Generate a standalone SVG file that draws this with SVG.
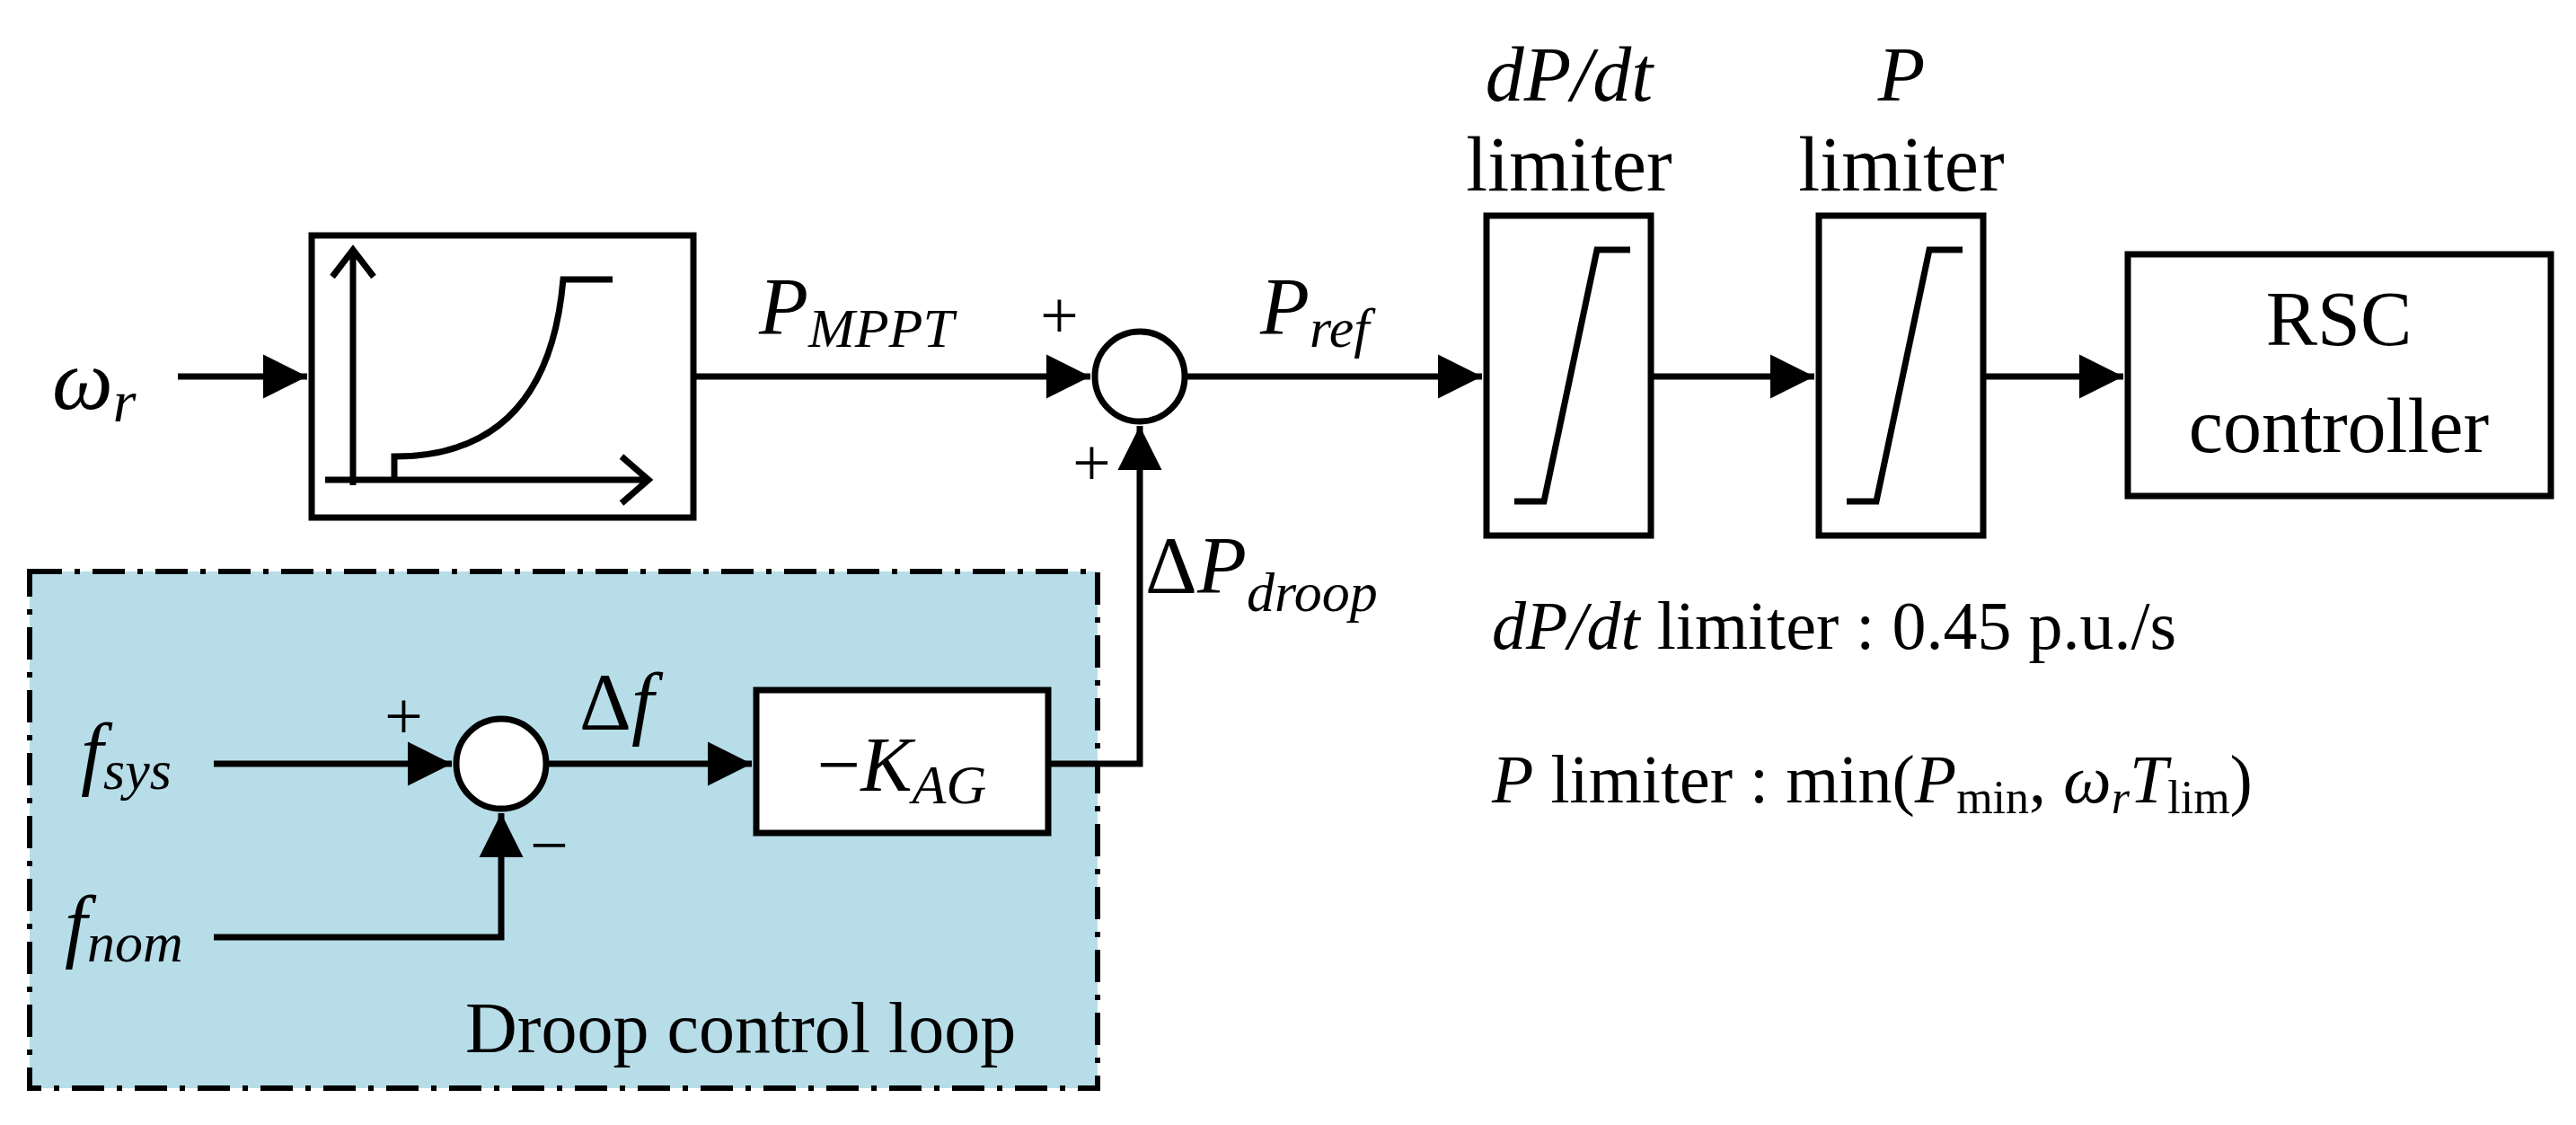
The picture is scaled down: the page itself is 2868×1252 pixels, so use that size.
<svg xmlns="http://www.w3.org/2000/svg" width="2868" height="1252" viewBox="0 0 2868 1252" font-family="'Liberation Serif', 'Times New Roman', 'DejaVu Serif', serif">
<defs>
<marker id="ah" markerWidth="8" markerHeight="8" refX="7" refY="4" orient="auto" markerUnits="strokeWidth"><path d="M0,0.5 L7,4 L0,7.5 Z" fill="#000"/></marker>
<style>
.b{fill:#fff;stroke:#000;stroke-width:7}
.l{fill:none;stroke:#000;stroke-width:7}
text{font-family:'Liberation Serif','Times New Roman','DejaVu Serif',serif;fill:#000}
.i{font-style:italic}
</style>
</defs>
<rect width="2868" height="1252" fill="#fff"/>
<g id="droop-loop">
<rect x="33" y="636" width="1189" height="575" fill="#b7dde8" stroke="#000" stroke-width="6" stroke-dasharray="36,14,6,14"/>
<text x="518" y="1171" font-size="80">Droop control loop</text>
</g>
<g id="mppt">
<rect class="b" x="347" y="262" width="425" height="314"/>
<path class="l" d="M393,540 V278 M370,308 L393,278 L416,308" stroke-width="5"/>
<path class="l" d="M362,534 H722 M692,508 L722,534 L692,560" stroke-width="5"/>
<path class="l" d="M439,534 V508 Q610,508 627,311 H682"/>
</g>
<g id="sum1"><circle class="b" cx="1269" cy="419" r="50"/></g>
<g id="sum2"><circle class="b" cx="558" cy="850" r="50"/></g>
<g id="kag"><rect class="b" x="842" y="768" width="325" height="159"/>
<text x="1004" y="880" font-size="86" text-anchor="middle"><tspan>−</tspan><tspan class="i">K</tspan><tspan class="i" font-size="62" dy="14">AG</tspan></text></g>
<g id="dpdt"><rect class="b" x="1655" y="240" width="183" height="356"/>
<path class="l" d="M1686,558 H1719 L1778,278 H1815"/></g>
<g id="plim"><rect class="b" x="2025" y="240" width="183" height="356"/>
<path class="l" d="M2056,558 H2089 L2148,278 H2185"/></g>
<g id="rsc"><rect class="b" x="2369" y="283" width="471" height="269"/>
<text x="2604" y="384" font-size="86" text-anchor="middle">RSC</text>
<text x="2604" y="503" font-size="86" text-anchor="middle">controller</text></g>
<g id="connectors">
<path class="l" d="M198,419 H342" marker-end="url(#ah)"/>
<path class="l" d="M772,419 H1214" marker-end="url(#ah)"/>
<path class="l" d="M1319,419 H1650" marker-end="url(#ah)"/>
<path class="l" d="M1838,419 H2020" marker-end="url(#ah)"/>
<path class="l" d="M2208,419 H2364" marker-end="url(#ah)"/>
<path class="l" d="M238,850 H503" marker-end="url(#ah)"/>
<path class="l" d="M238,1043 H558 V905" marker-end="url(#ah)"/>
<path class="l" d="M608,850 H837" marker-end="url(#ah)"/>
<path class="l" d="M1167,850 H1269 V474" marker-end="url(#ah)"/>
</g>
<g id="labels">
<text class="i" x="58" y="455" font-size="96">ω<tspan font-size="66" dy="14">r</tspan></text>
<text class="i" x="845" y="372" font-size="90">P<tspan font-size="62" dy="14">MPPT</tspan></text>
<text x="1158" y="376" font-size="76">+</text>
<text x="1194" y="540" font-size="76">+</text>
<text class="i" x="1403" y="372" font-size="90">P<tspan font-size="62" dy="14">ref</tspan></text>
<text x="1275" y="660" font-size="90">Δ<tspan class="i">P</tspan><tspan class="i" font-size="62" dy="20">droop</tspan></text>
<text class="i" x="90" y="868" font-size="90">f<tspan font-size="62" dy="10">sys</tspan></text>
<text class="i" x="72" y="1060" font-size="90">f<tspan font-size="62" dy="10">nom</tspan></text>
<text x="428" y="822" font-size="76">+</text>
<text x="590" y="966" font-size="76">−</text>
<text x="645" y="812" font-size="90">Δ<tspan class="i">f</tspan></text>
<text class="i" x="1747" y="112" font-size="86" text-anchor="middle">dP/dt</text>
<text x="1747" y="212" font-size="86" text-anchor="middle">limiter</text>
<text class="i" x="2117" y="112" font-size="86" text-anchor="middle">P</text>
<text x="2117" y="212" font-size="86" text-anchor="middle">limiter</text>
<text x="1661" y="722" font-size="76"><tspan class="i">dP/dt</tspan> limiter : 0.45 p.u./s</text>
<text x="1661" y="893" font-size="76"><tspan class="i">P</tspan> limiter : min(<tspan class="i">P</tspan><tspan font-size="52" dy="12">min</tspan><tspan dy="-12">, </tspan><tspan class="i">ω</tspan><tspan class="i" font-size="52" dy="12">r</tspan><tspan class="i" dy="-12">T</tspan><tspan font-size="52" dy="12">lim</tspan><tspan dy="-12">)</tspan></text>
</g>
</svg>
